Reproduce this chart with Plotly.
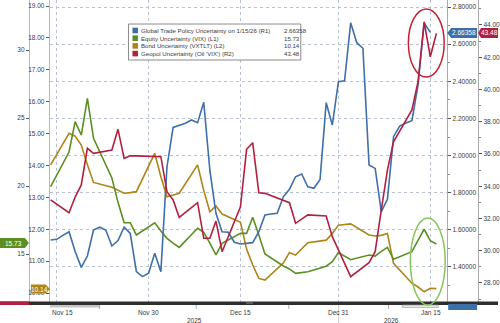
import plotly.graph_objects as go
import pandas as pd

W, H = 500, 323

# ---------------- data ----------------
daily_dates = pd.date_range("2025-11-14", "2026-01-15", freq="D")
bday_dates = pd.bdate_range("2025-11-14", "2026-01-16")

trade_policy = [  # R1, daily
    1.545, 1.549, 1.570, 1.590, 1.483, 1.398, 1.459, 1.599, 1.614, 1.599, 1.513, 1.542, 1.614, 1.581, 1.375, 1.348, 1.366,
    1.474, 1.375, 1.940, 2.152, 2.165, 2.174, 2.192, 2.177, 2.287, 1.922, 1.689, 1.590, 1.587, 1.533, 1.524,
    1.529, 1.531, 1.590, 1.680, 1.685, 1.689, 1.778, 1.818, 1.886, 1.901, 1.832, 1.824, 1.872, 2.285, 2.165, 2.398,
    2.403, 2.715, 2.608, 2.578, 1.949, 1.931, 1.698, 1.764, 2.102, 2.159, 2.175, 2.188, 2.380, 2.715, 2.66358,
]
vix = [  # L1, business days
    19.95, 22.50, 24.73, 23.75, 26.45, 23.51, 20.59, 18.80, 17.30, 17.30, 16.40,
    17.30, 16.70, 16.15, 15.80, 15.49, 16.89, 16.60, 15.80, 14.93, 15.79, 16.52, 16.52, 17.70, 16.40, 15.00,
    14.12, 13.90, 13.58, 13.65, 13.70, 14.10, 14.43, 15.10,
    14.85, 14.58, 14.93, 14.85, 15.20, 15.49, 14.61, 15.17, 16.00, 16.82, 15.98, 15.73,
]
vxtlt = [  # L2, business days
    14.02, 15.01, 14.92, 14.64, 14.02, 13.47, 13.32, 13.23, 13.13, 13.15, 13.18,
    14.38, 13.65, 13.02, 13.07, 13.13, 14.02, 13.22, 12.55, 12.73, 12.48, 12.22, 11.38, 10.88, 10.46, 10.41,
    10.94, 11.27, 11.19, 11.40, 11.58, 11.66, 11.87, 12.13,
    12.15, 12.17, 11.82, 11.79, 11.81, 11.87, 10.93, 10.31, 10.19, 10.04, 10.15, 10.14,
]
ovx = [  # R2, business days
    33.15, 32.36, 33.33, 34.08, 36.35, 36.04, 36.25, 37.53, 35.73, 35.89, 35.88,
    35.87, 35.83, 33.66, 33.15, 32.07, 32.98, 30.77, 30.77, 31.84, 29.94, 32.73, 36.29, 36.70, 33.60, 33.56,
    33.11, 32.98, 31.70, 31.97, 32.22, 32.16, 30.87, 30.05,
    29.24, 28.39, 29.26, 29.94, 32.53, 35.00, 36.76, 38.73, 40.48, 44.20, 42.03, 43.48,
]

legend_names = [
    "Global Trade Policy Uncertainty on 1/15/26 (R1)",
    "Equity Uncertainty (VIX) (L1)",
    "Bond Uncertainty (VXTLT) (L2)",
    "Geopol Uncertainty (Oil 'VIX') (R2)",
]
x_tick_dates = ["2025-11-15", "2025-11-30", "2025-12-15", "2025-12-31", "2026-01-15"]
x_tick_text = ["Nov 15", "Nov 30", "Dec 15", "Dec 31", "Jan 15"]
year_labels = ["2025", "2026"]

# ---------------- styling ----------------
BLUE = "#3d6fa8"
GREEN = "#5b8f22"
BROWN = "#ad8417"
RED = "#b3203f"
FONT = "Liberation Sans"
TXT = "#3a3a3a"


def px(x):
    return x / W


def py(y):
    return 1 - y / H


fig = go.Figure()
fig.add_trace(go.Scatter(x=bday_dates, y=vxtlt, yaxis="y", mode="lines",
                         line=dict(color=BROWN, width=1.6), hoverinfo="skip"))
fig.add_trace(go.Scatter(x=bday_dates, y=vix, yaxis="y2", mode="lines",
                         line=dict(color=GREEN, width=1.6), hoverinfo="skip"))
fig.add_trace(go.Scatter(x=daily_dates, y=trade_policy, yaxis="y3", mode="lines",
                         line=dict(color=BLUE, width=1.6), hoverinfo="skip"))
fig.add_trace(go.Scatter(x=bday_dates, y=ovx, yaxis="y4", mode="lines",
                         line=dict(color=RED, width=1.6), hoverinfo="skip"))

ydom = [1 - 302 / H, 1]
tickfont = dict(family=FONT, size=6.5, color=TXT)

fig.update_layout(
    width=W, height=H, autosize=False,
    margin=dict(l=0, r=0, t=0, b=0, pad=0),
    paper_bgcolor="white", plot_bgcolor="white",
    showlegend=False,
    font=dict(family=FONT, size=6.5, color=TXT),
    xaxis=dict(
        domain=[px(50), px(449)],
        type="date",
        range=["2025-11-13 20:40", "2026-01-17 18:20"],
        tickvals=x_tick_dates, showticklabels=False, ticks="",
        showgrid=True, gridcolor="#b9c1cf", griddash="dot", gridwidth=1,
        showline=False, zeroline=False,
    ),
    yaxis=dict(  # L2 VXTLT
        domain=ydom, anchor="x", side="left",
        range=[9.72, 19.19], dtick=1, tick0=10, tickformat=".2f",
        showgrid=False, zeroline=False,
        showline=True, linecolor="#c9b78a", linewidth=1,
        ticks="outside", ticklen=3, tickcolor="#555", tickfont=tickfont,
    ),
    yaxis2=dict(  # L1 VIX
        domain=ydom, overlaying="y", anchor="free", position=px(29), side="left",
        range=[11.47, 33.68], dtick=5, tick0=15, tickformat="d",
        showgrid=False, zeroline=False,
        showline=True, linecolor="#c9b78a", linewidth=1,
        ticks="outside", ticklen=3, tickcolor="#555", tickfont=tickfont,
    ),
    yaxis3=dict(  # R1 trade policy
        domain=ydom, overlaying="y", anchor="x", side="right",
        range=[1.2114, 2.838], dtick=0.2, tick0=1.2, tickformat=".5f",
        showgrid=True, gridcolor="#b9c1cf", griddash="dot", gridwidth=1,
        zeroline=False,
        showline=True, linecolor="#8fb0d4", linewidth=1,
        ticks="outside", ticklen=3, tickcolor="#555", tickfont=tickfont,
        minor=dict(dtick=0.1, ticks="outside", ticklen=2, tickcolor="#888", showgrid=False),
    ),
    yaxis4=dict(  # R2 OVX
        domain=ydom, overlaying="y", anchor="free", position=px(480), side="right",
        range=[26.82, 45.55], dtick=2, tick0=28, tickformat=".2f",
        showgrid=False, zeroline=False,
        showline=True, linecolor="#aaaaaa", linewidth=1,
        ticks="outside", ticklen=3, tickcolor="#555",
        tickfont=tickfont,
        minor=dict(dtick=1, ticks="outside", ticklen=2, tickcolor="#888", showgrid=False),
    ),
)

shapes = []
annotations = []

# bottom scroll bar decorations
shapes.append(dict(type="rect", xref="paper", yref="paper", x0=0, x1=1, y0=py(305), y1=py(301.5),
                   fillcolor="#2e2e2e", line=dict(width=0), layer="above"))
shapes.append(dict(type="rect", xref="paper", yref="paper", x0=px(50), x1=px(100), y0=py(307.5), y1=py(305),
                   fillcolor="#c4c4c4", line=dict(width=0), layer="above"))
shapes.append(dict(type="rect", xref="paper", yref="paper", x0=px(404), x1=px(440), y0=py(307.5), y1=py(305),
                   fillcolor="#e6e6e6", line=dict(color="#999", width=0.6), layer="above"))
shapes.append(dict(type="rect", xref="paper", yref="paper", x0=px(247), x1=px(254), y0=py(303.5), y1=py(302.5),
                   fillcolor="#888", line=dict(width=0), layer="above"))
shapes.append(dict(type="line", xref="paper", yref="paper", x0=px(340), x1=px(340), y0=py(323), y1=py(305),
                   line=dict(color="#c8c8c8", width=1), layer="above"))
for tx in [100, 197, 290, 390]:
    shapes.append(dict(type="line", xref="paper", yref="paper", x0=px(tx), x1=px(tx), y0=py(309), y1=py(305),
                       line=dict(color="#999", width=0.8), layer="above"))
shapes.append(dict(type="rect", xref="paper", yref="paper", x0=0, x1=px(29), y0=py(305), y1=py(301.5),
                   fillcolor="#b3203f", line=dict(width=0), layer="above"))
shapes.append(dict(type="rect", xref="paper", yref="paper", x0=px(450), x1=px(479), y0=py(310), y1=py(304),
                   fillcolor=BLUE, line=dict(width=0), layer="above"))


def tag_path(pts):
    return "M " + " L ".join(f"{px(a):.5f},{py(b):.5f}" for a, b in pts) + " Z"


# value tags
tags = [
    ([(449, 33), (453, 28), (479, 28), (479, 38), (453, 38)], BLUE, f"{trade_policy[-1]:.5f}", 465.5, 33),
    ([(480, 33), (483, 28), (500, 28), (500, 38), (483, 38)], RED, f"{ovx[-1]:.2f}", 491.5, 33),
    ([(0, 238), (25, 238), (29, 243), (25, 248), (0, 248)], GREEN, f"{vix[-1]:.2f}", 13.5, 243),
    ([(31, 284.5), (46, 284.5), (50, 289), (46, 293.5), (31, 293.5)], BROWN, f"{vxtlt[-1]:.2f}", 39.5, 289),
]
for pts, col, txt, cx, cy in tags:
    shapes.append(dict(type="path", xref="paper", yref="paper", path=tag_path(pts),
                       fillcolor=col, line=dict(width=0), layer="above"))
    annotations.append(dict(xref="paper", yref="paper", x=px(cx), y=py(cy), text=txt, showarrow=False,
                            xanchor="center", yanchor="middle",
                            font=dict(family=FONT, size=6.5, color="white")))

# ellipses
shapes.append(dict(type="circle", xref="paper", yref="paper", x0=px(410), x1=px(446), y0=py(77), y1=py(9),
                   line=dict(color="#c42035", width=1.5), layer="above"))
shapes.append(dict(type="circle", xref="paper", yref="paper", x0=px(412), x1=px(447), y0=py(305), y1=py(218),
                   line=dict(color="#86c45c", width=1.5), layer="above"))

# legend box
shapes.append(dict(type="rect", xref="paper", yref="paper", x0=px(129), x1=px(302), y0=py(60), y1=py(24),
                   fillcolor="white", line=dict(color="#8a8a8a", width=1), layer="above"))
legend_vals = [f"{trade_policy[-1]:.5f}", f"{vix[-1]:.2f}", f"{vxtlt[-1]:.2f}", f"{ovx[-1]:.2f}"]
legend_cols = [BLUE, GREEN, BROWN, RED]
row_y = [30.5, 38.2, 45.9, 53.6]
for name, val, col, yy in zip(legend_names, legend_vals, legend_cols, row_y):
    shapes.append(dict(type="rect", xref="paper", yref="paper", x0=px(133), x1=px(138.5), y0=py(yy + 2.8),
                       y1=py(yy - 2.8), fillcolor=col, line=dict(width=0), layer="above"))
    annotations.append(dict(xref="paper", yref="paper", x=px(140), y=py(yy), text=name, showarrow=False,
                            xanchor="left", yanchor="middle",
                            font=dict(family=FONT, size=6.1, color=TXT)))
    annotations.append(dict(xref="paper", yref="paper", x=px(283), y=py(yy), text=val, showarrow=False,
                            xanchor="left", yanchor="middle",
                            font=dict(family=FONT, size=6.1, color=TXT)))

# x labels
x_label_px = [63, 149, 241.5, 340, 432.5]
for t, xx in zip(x_tick_text, x_label_px):
    annotations.append(dict(xref="paper", yref="paper", x=px(xx), y=py(312.5), text=t, showarrow=False,
                            xanchor="center", yanchor="middle", font=dict(family=FONT, size=6.5, color=TXT)))
for t, xx in zip(year_labels, [195, 393]):
    annotations.append(dict(xref="paper", yref="paper", x=px(xx), y=py(320), text=t, showarrow=False,
                            xanchor="center", yanchor="middle", font=dict(family=FONT, size=6.5, color=TXT)))

fig.update_layout(shapes=shapes, annotations=annotations)
fig.write_html("out.html")
